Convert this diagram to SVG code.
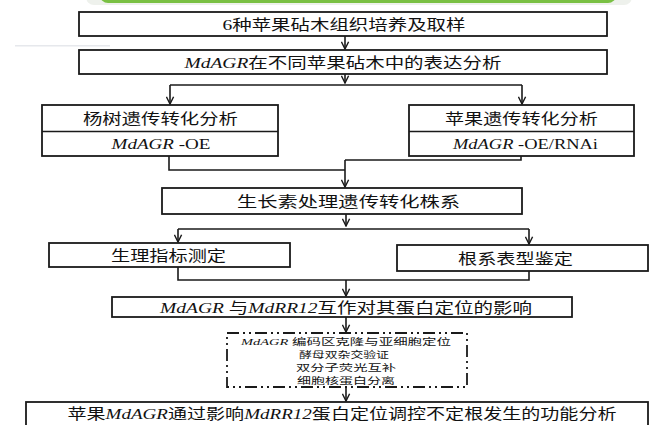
<svg xmlns="http://www.w3.org/2000/svg" width="659" height="425" viewBox="0 0 659 425">
<defs>
<style>
.box{fill:#fff;stroke:#1a1a1a;stroke-width:1.8}
.ln{fill:none;stroke:#1a1a1a;stroke-width:1.6}
.t{font-family:"Noto Sans CJK SC","Noto Sans",sans-serif;font-size:15px;fill:#111;text-anchor:middle}
.s{font-size:9px}
.i{font-family:"Liberation Serif",serif;font-style:italic}
.r{font-family:"Liberation Serif",serif}
</style>
<marker id="ah" viewBox="0 0 10 10" refX="9" refY="5" markerWidth="9" markerHeight="9" markerUnits="userSpaceOnUse" orient="auto">
<path d="M1,1 L9,5 L1,9" fill="none" stroke="#1a1a1a" stroke-width="1.6"/>
</marker>
</defs>
<rect width="659" height="425" fill="#fff"/>
<g id="topbar">
<rect x="86" y="-12" width="546" height="17" rx="8" fill="#eef1ec"/>
<rect x="100" y="-12" width="516" height="15" rx="8" fill="#79c043"/>
<rect x="15" y="45" width="95" height="1.5" fill="#e6e8ec"/>
</g>
<g id="connectors">
<path class="ln" d="M345,36 V49" marker-end="url(#ah)"/>
<path class="ln" d="M345,74 V83" marker-end="url(#ah)"/>
<path class="ln" d="M170,85 H522"/>
<path class="ln" d="M170,85 V104" marker-end="url(#ah)"/>
<path class="ln" d="M522,85 V104" marker-end="url(#ah)"/>
<path class="ln" d="M169,156 V170 H345"/>
<path class="ln" d="M521,156 V160 H345"/>
<path class="ln" d="M345,160 V187" marker-end="url(#ah)"/>
<path class="ln" d="M346,214 V226" marker-end="url(#ah)"/>
<path class="ln" d="M178,229 H529"/>
<path class="ln" d="M178,229 V242" marker-end="url(#ah)"/>
<path class="ln" d="M529,229 V244" marker-end="url(#ah)"/>
<path class="ln" d="M178,267 V280 H529 V271"/>
<path class="ln" d="M346,280 V296" marker-end="url(#ah)"/>
<path class="ln" d="M346,317 V332" marker-end="url(#ah)"/>
<path class="ln" d="M346,387 V401" marker-end="url(#ah)"/>
</g>
<g id="n1">
<rect class="box" x="79" y="12" width="528" height="24"/>
<text class="t" x="344" y="30" textLength="243" lengthAdjust="spacingAndGlyphs"><tspan class="r">6</tspan>种苹果砧木组织培养及取样</text>
</g>
<g id="n2">
<rect class="box" x="79" y="50" width="528" height="24"/>
<text class="t" x="343" y="68" textLength="317" lengthAdjust="spacingAndGlyphs"><tspan class="i">MdAGR</tspan>在不同苹果砧木中的表达分析</text>
</g>
<g id="n3">
<rect class="box" x="42" y="105" width="236" height="51"/>
<line class="ln" x1="42" y1="131.5" x2="278" y2="131.5"/>
<text class="t" x="160.5" y="124" textLength="155" lengthAdjust="spacingAndGlyphs">杨树遗传转化分析</text>
<text class="t" x="161" y="149" textLength="99" lengthAdjust="spacingAndGlyphs"><tspan class="i">MdAGR</tspan><tspan class="r"> -OE</tspan></text>
</g>
<g id="n4">
<rect class="box" x="409" y="105" width="225" height="51"/>
<line class="ln" x1="409" y1="131.5" x2="634" y2="131.5"/>
<text class="t" x="521.5" y="124" textLength="153" lengthAdjust="spacingAndGlyphs">苹果遗传转化分析</text>
<text class="t" x="525.5" y="149" textLength="145" lengthAdjust="spacingAndGlyphs"><tspan class="i">MdAGR</tspan><tspan class="r"> -OE/RNAi</tspan></text>
</g>
<g id="n5">
<rect class="box" x="162" y="188" width="360" height="26"/>
<text class="t" x="348.5" y="207" textLength="223" lengthAdjust="spacingAndGlyphs">生长素处理遗传转化株系</text>
</g>
<g id="n6">
<rect class="box" x="49" y="243" width="241" height="24"/>
<text class="t" x="168.5" y="261" textLength="115" lengthAdjust="spacingAndGlyphs">生理指标测定</text>
</g>
<g id="n7">
<rect class="box" x="397" y="245" width="251" height="26"/>
<text class="t" x="515.5" y="264" textLength="115" lengthAdjust="spacingAndGlyphs">根系表型鉴定</text>
</g>
<g id="n8">
<rect class="box" x="112" y="297" width="460" height="20"/>
<text class="t" x="346" y="312.5" textLength="372" lengthAdjust="spacingAndGlyphs"><tspan class="i">MdAGR </tspan>与<tspan class="i">MdRR12</tspan>互作对其蛋白定位的影响</text>
</g>
<g id="n9">
<rect x="227" y="333" width="240" height="54" fill="#fff" stroke="#1a1a1a" stroke-width="1.8" stroke-dasharray="12,4,2,4,2,4"/>
<text class="t s" x="346" y="345" textLength="210" lengthAdjust="spacingAndGlyphs"><tspan class="i">MdAGR </tspan>编码区克隆与亚细胞定位</text>
<text class="t s" x="344" y="358.1" textLength="90" lengthAdjust="spacingAndGlyphs">酵母双杂交验证</text>
<text class="t s" x="346" y="371.2" textLength="100" lengthAdjust="spacingAndGlyphs">双分子荧光互补</text>
<text class="t s" x="346" y="384.3" textLength="98" lengthAdjust="spacingAndGlyphs">细胞核蛋白分离</text>
</g>
<g id="n10">
<rect class="box" x="26" y="402" width="622" height="30"/>
<text class="t" x="342" y="419" textLength="549" lengthAdjust="spacingAndGlyphs">苹果<tspan class="i">MdAGR</tspan>通过影响<tspan class="i">MdRR12</tspan>蛋白定位调控不定根发生的功能分析</text>
</g>
</svg>
